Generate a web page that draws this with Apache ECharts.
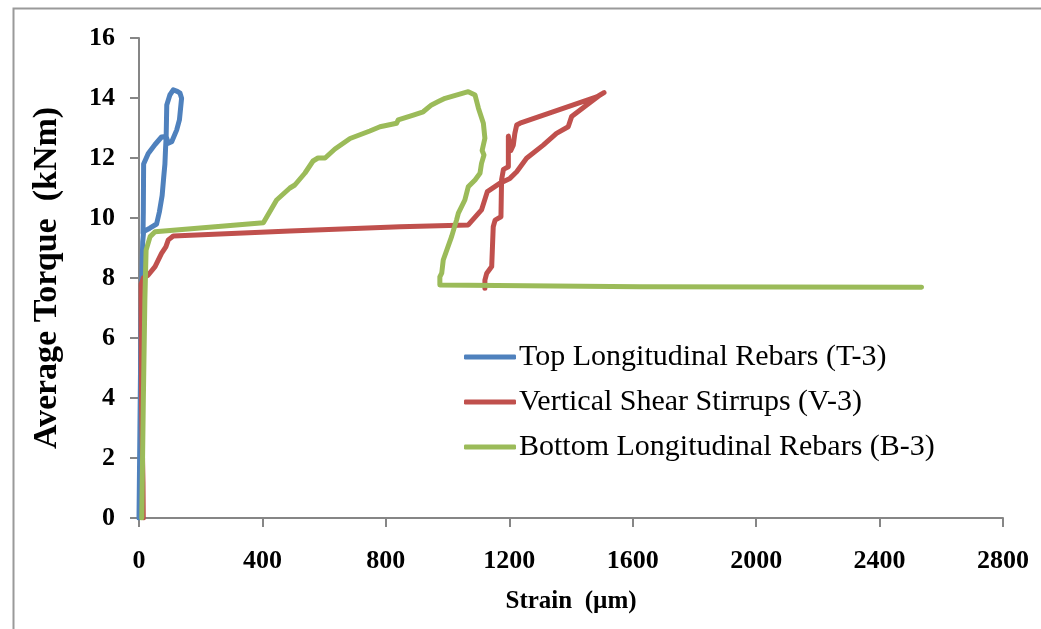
<!DOCTYPE html>
<html>
<head>
<meta charset="utf-8">
<script src="https://cdn.jsdelivr.net/npm/echarts@6/dist/echarts.min.js"></script>
<style>
html,body{margin:0;padding:0;background:#fff;}
#chart{width:1041px;height:629px;}
</style>
</head>
<body>
<div id="chart"></div>
<script>
// ---- Data (strain in µm, torque in kNm) ----
var seriesNames = ['Top Longitudinal Rebars (T-3)', 'Vertical Shear Stirrups (V-3)', 'Bottom Longitudinal Rebars (B-3)'];

var topStrain  = [0, 3, 6, 9, 12, 15, 35, 57, 66, 75, 80, 84, 86, 88, 90, 100, 111, 124, 133, 138, 131, 122, 106, 95, 88, 73, 52, 30, 15, 14, 13];
var topTorque  = [0, 3, 6, 8, 9.2, 9.55, 9.66, 9.8, 10.2, 10.75, 11.35, 11.8, 12.3, 12.7, 13.77, 14.1, 14.27, 14.22, 14.16, 13.99, 13.27, 12.93, 12.54, 12.49, 12.72, 12.7, 12.45, 12.15, 11.8, 10.2, 9.5];

var vertStrain = [14, 13, 8, 7, 14, 30, 52, 73, 87, 95, 111, 489, 846, 1067, 1110, 1129, 1170, 1202, 1224, 1256, 1310, 1353, 1391, 1402, 1451, 1494, 1507, 1483, 1235, 1224, 1218, 1213, 1205, 1197, 1197, 1181, 1175, 1173, 1154, 1148, 1143, 1127, 1121, 1121];
var vertTorque = [0, 1.2, 3.9, 7.8, 8.0, 8.1, 8.38, 8.82, 9.04, 9.27, 9.4, 9.57, 9.71, 9.77, 10.27, 10.88, 11.16, 11.32, 11.54, 11.99, 12.43, 12.82, 13.04, 13.38, 13.77, 14.1, 14.18, 14.04, 13.16, 13.1, 12.82, 12.43, 12.25, 12.73, 11.71, 11.62, 11.27, 10.04, 9.93, 9.71, 8.38, 8.16, 7.93, 7.66];

var botStrain  = [9, 14, 19, 23, 36, 52, 403, 446, 489, 505, 538, 564, 580, 603, 635, 684, 748, 781, 835, 840, 889, 921, 948, 970, 992, 1067, 1089, 1100, 1116, 1121, 1112, 1118, 1110, 1105, 1089, 1067, 1056, 1035, 1029, 1013, 986, 981, 975, 975, 1623, 2536];
var botTorque  = [0, 3.9, 7.27, 8.93, 9.38, 9.54, 9.84, 10.6, 11.0, 11.1, 11.5, 11.9, 12.0, 12.0, 12.3, 12.65, 12.9, 13.04, 13.16, 13.27, 13.43, 13.54, 13.77, 13.88, 13.99, 14.21, 14.1, 13.66, 13.16, 12.66, 12.25, 12.1, 11.82, 11.49, 11.27, 11.04, 10.6, 10.16, 9.93, 9.38, 8.6, 8.16, 8.04, 7.77, 7.71, 7.69];

var xTicks = [0, 400, 800, 1200, 1600, 2000, 2400, 2800];
var yTicks = [0, 2, 4, 6, 8, 10, 12, 14, 16];

function zip(a, b) { return a.map(function (v, i) { return [v, b[i]]; }); }

var serif = "'Liberation Serif','Times New Roman',serif";
var colors = ['#4F81BD', '#C0504D', '#9BBB59'];

function lineSeries(name, data, color) {
  return {
    name: name, type: 'line', data: data, symbol: 'none', showSymbol: false, smooth: false,
    lineStyle: { color: color, width: 5, cap: 'round', join: 'round' },
    itemStyle: { color: color },
    animation: false
  };
}

var chart = echarts.init(document.getElementById('chart'), null, { renderer: 'canvas' });
chart.setOption({
  backgroundColor: '#fff',
  animation: false,
  color: colors,
  graphic: [{
    type: 'rect', left: 11, top: 6, silent: true,
    shape: { x: 0, y: 0, width: 1100, height: 700 },
    style: { fill: 'none', stroke: '#9a9a9a', lineWidth: 2 }
  }],
  grid: { left: 139, right: 38, top: 38, bottom: 111, containLabel: false },
  legend: {
    orient: 'vertical', left: 459, top: 337,
    icon: 'roundRect', itemWidth: 52, itemHeight: 5, itemGap: 15,
    textStyle: { fontFamily: serif, fontSize: 30, color: '#000', padding: [0, 0, 0, -2] },
    data: seriesNames
  },
  xAxis: {
    type: 'value', min: xTicks[0], max: xTicks[xTicks.length - 1], interval: 400,
    name: 'Strain  (µm)', nameLocation: 'middle', nameGap: 71,
    nameTextStyle: { fontFamily: serif, fontSize: 25, fontWeight: 'bold', color: '#000' },
    axisLine: { show: true, onZero: false, lineStyle: { color: '#868686', width: 2 } },
    axisTick: { show: true, length: 9, lineStyle: { color: '#868686', width: 2 } },
    axisLabel: { fontFamily: serif, fontSize: 26, fontWeight: 'bold', color: '#000', margin: 30,
      formatter: function (v) { return String(v); } },
    splitLine: { show: false }
  },
  yAxis: {
    type: 'value', min: yTicks[0], max: yTicks[yTicks.length - 1], interval: 2,
    name: 'Average Torque  (kNm)', nameLocation: 'middle', nameGap: 75,
    nameTextStyle: { fontFamily: serif, fontSize: 34, fontWeight: 'bold', color: '#000' },
    axisLine: { show: true, lineStyle: { color: '#868686', width: 2 } },
    axisTick: { show: true, length: 9, lineStyle: { color: '#868686', width: 2 } },
    axisLabel: { fontFamily: serif, fontSize: 26, fontWeight: 'bold', color: '#000', margin: 24,
      formatter: function (v) { return String(v); } },
    splitLine: { show: false }
  },
  series: [
    lineSeries(seriesNames[0], zip(topStrain, topTorque), colors[0]),
    lineSeries(seriesNames[1], zip(vertStrain, vertTorque), colors[1]),
    lineSeries(seriesNames[2], zip(botStrain, botTorque), colors[2])
  ]
});
</script>
</body>
</html>
